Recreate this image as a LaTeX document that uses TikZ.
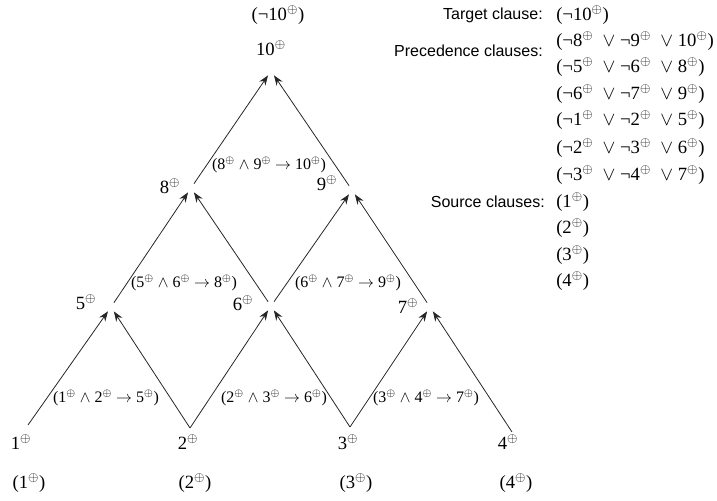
\documentclass[tikz,border=0pt]{standalone}
\usepackage{fontspec}
\setmainfont{Liberation Serif}
\newfontfamily\hlv{Liberation Sans}
\usepackage{tikz}
\usetikzlibrary{arrows.meta}
\newcommand{\lit}[1]{#1\textsuperscript{$\oplus$}}
\newcommand{\nlit}[1]{¬\lit{#1}}

\begin{document}
\begin{tikzpicture}[x=0.75pt,y=-0.75pt,>={Stealth[length=7.5pt,width=5.5pt]},
  edge/.style={->,line width=0.6pt,draw=black!85},
  jn/.style={circle,minimum size=7.5pt,inner sep=0pt},
  vlab/.style={font=\fontsize{14}{16}\selectfont,inner sep=0pt},
  elab/.style={font=\fontsize{12}{14}\selectfont,inner sep=0pt},
  head/.style={font=\hlv\fontsize{12}{14}\selectfont,anchor=east,inner sep=0pt},
  cl/.style={font=\fontsize{14}{16}\selectfont,anchor=west,inner sep=0pt}]
\useasboundingbox (0,0) rectangle (717,500);
% points of the graph
\coordinate (p1) at (28,425);
\coordinate (p2) at (190,428);
\coordinate (p3) at (350,427);
\coordinate (p4) at (512,432);
\node[jn] (p5) at (111,307) {};
\node[jn] (p6) at (271,306) {};
\node[jn] (p7) at (430,307) {};
\node[jn] (p8) at (191,188) {};
\node[jn] (p9) at (352,190) {};
\node[jn] (p10) at (271,71) {};
\draw[edge] (p1)--(p5);
\draw[edge] (p2)--(p5);
\draw[edge] (p2)--(p6);
\draw[edge] (p3)--(p6);
\draw[edge] (p3)--(p7);
\draw[edge] (p4)--(p7);
\draw[edge] (p5)--(p8);
\draw[edge] (p6)--(p8);
\draw[edge] (p6)--(p9);
\draw[edge] (p7)--(p9);
\draw[edge] (p8)--(p10);
\draw[edge] (p9)--(p10);
% vertex labels
\node[vlab] (l1) at (21,442) {\lit{1}};
\node[vlab] (l2) at (188,442) {\lit{2}};
\node[vlab] (l3) at (348,442) {\lit{3}};
\node[vlab] (l4) at (508,442) {\lit{4}};
\node[vlab] (l5) at (86,302) {\lit{5}};
\node[vlab] (l6) at (243,303) {\lit{6}};
\node[vlab] (l7) at (408,306) {\lit{7}};
\node[vlab] (l8) at (170,186) {\lit{8}};
\node[vlab] (l9) at (327,183) {\lit{9}};
\node[vlab] (l10) at (271,48) {\lit{10}};
\node[vlab] (s1) at (29,483) {(\lit{1})};
\node[vlab] (s2) at (195,483) {(\lit{2})};
\node[vlab] (s3) at (356,483) {(\lit{3})};
\node[vlab] (s4) at (516,483) {(\lit{4})};
\node[vlab] (t10) at (278,15) {(\nlit{10})};
% rule labels
\node[elab] (r5) at (106,398) {(\lit{1} $\wedge$ \lit{2} $\rightarrow$ \lit{5})};
\node[elab] (r6) at (274,398) {(\lit{2} $\wedge$ \lit{3} $\rightarrow$ \lit{6})};
\node[elab] (r7) at (426,398) {(\lit{3} $\wedge$ \lit{4} $\rightarrow$ \lit{7})};
\node[elab] (r8) at (184,283) {(\lit{5} $\wedge$ \lit{6} $\rightarrow$ \lit{8})};
\node[elab] (r9) at (348,283) {(\lit{6} $\wedge$ \lit{7} $\rightarrow$ \lit{9})};
\node[elab] (r10) at (269,165) {(\lit{8} $\wedge$ \lit{9} $\rightarrow$ \lit{10})};
% clause list
\node[head] (htgt) at (543,15) {Target clause:};
\node[head] (hprec) at (543,51) {Precedence clauses:};
\node[head] (hsrc) at (545,202) {Source clauses:};
\node[cl] (c0) at (556,15) {(\nlit{10})};
\node[cl] (c1) at (556,41) {(\nlit{8} \ $\vee$ \nlit{9} \ $\vee$ \lit{10})};
\node[cl] (c2) at (556,67) {(\nlit{5} \ $\vee$ \nlit{6} \ $\vee$ \lit{8})};
\node[cl] (c3) at (556,94) {(\nlit{6} \ $\vee$ \nlit{7} \ $\vee$ \lit{9})};
\node[cl] (c4) at (556,120) {(\nlit{1} \ $\vee$ \nlit{2} \ $\vee$ \lit{5})};
\node[cl] (c5) at (556,148) {(\nlit{2} \ $\vee$ \nlit{3} \ $\vee$ \lit{6})};
\node[cl] (c6) at (556,175) {(\nlit{3} \ $\vee$ \nlit{4} \ $\vee$ \lit{7})};
\node[cl] (c7) at (556,202) {(\lit{1})};
\node[cl] (c8) at (556,228) {(\lit{2})};
\node[cl] (c9) at (556,255) {(\lit{3})};
\node[cl] (c10) at (556,281) {(\lit{4})};
\end{tikzpicture}
\end{document}
